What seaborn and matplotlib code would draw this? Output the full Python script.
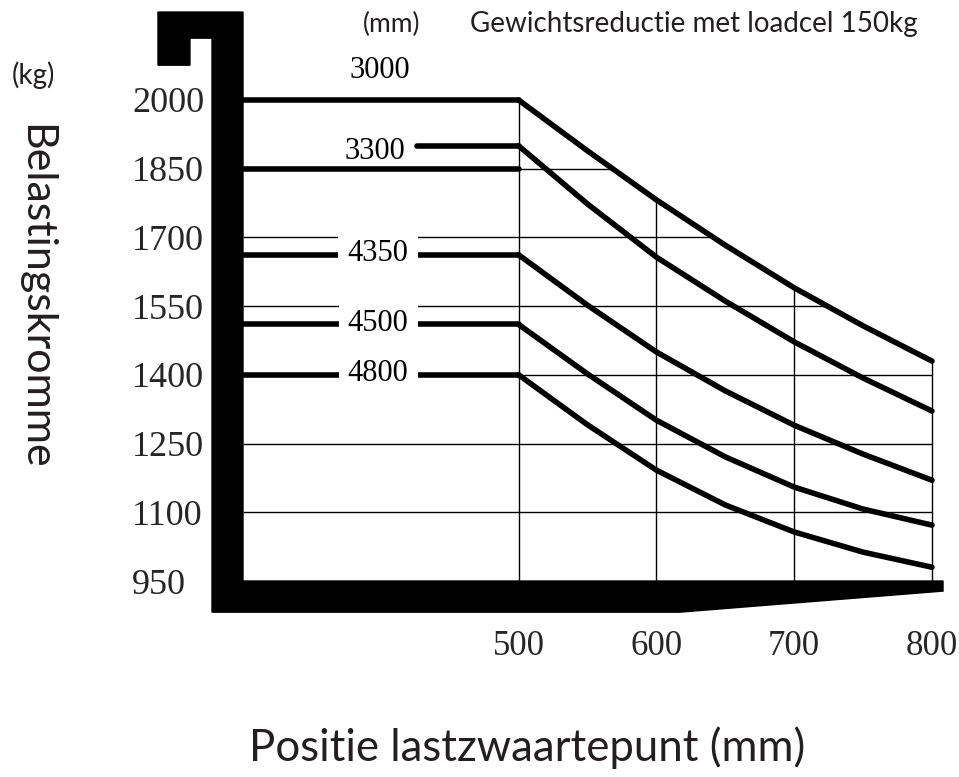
import matplotlib
matplotlib.use('Agg')
import numpy as np
import pandas as pd
import matplotlib.pyplot as plt
import seaborn as sns

# Lastzwaartepunt (mm) en belasting (kg) per masthoogte
positie = [500, 550, 600, 650, 700, 750, 800]
last_3000 = [2000, 1889, 1782, 1683, 1590, 1507, 1430]
last_3300 = [1900, 1773, 1657, 1561, 1472, 1393, 1321]
last_4350 = [1662, 1552, 1450, 1365, 1290, 1227, 1170]
last_4500 = [1510, 1402, 1301, 1221, 1155, 1107, 1072]
last_4800 = [1400, 1291, 1192, 1116, 1057, 1013, 980]
masten = ['3000', '3300', '4350', '4500', '4800']

y_ticks = [950, 1100, 1250, 1400, 1550, 1700, 1850, 2000]
x_ticks = [500, 600, 700, 800]

curves = {'3000': last_3000, '3300': last_3300, '4350': last_4350,
          '4500': last_4500, '4800': last_4800}
df = pd.DataFrame([(m, x, y) for m in masten for x, y in zip(positie, curves[m])],
                  columns=['mast', 'positie', 'last'])

sns.set_theme(style='white')
plt.rcParams['font.family'] = ['Liberation Serif', 'DejaVu Serif']

fig = plt.figure(figsize=(9.59, 7.77), dpi=100)
ax = fig.add_axes([243/959, 1 - 581/777, 689/959, 481/777])
ax.set_xlim(300, 800)
ax.set_ylim(950, 2000)
for s in ax.spines.values():
    s.set_visible(False)

# raster
for y in y_ticks[1:-1]:
    ax.plot([300, 800], [y, y], color='black', lw=1.0, zorder=1, clip_on=False,
            solid_capstyle='butt')
for x in x_ticks:
    top = last_3000[positie.index(x)]
    ax.plot([x, x], [950, top], color='black', lw=1.0, zorder=1, clip_on=False,
            solid_capstyle='butt')

# wit boven de bovenste curve (raster maskeren)
top_x = [300] + positie
top_y = [last_3000[0]] + last_3000
ax.fill_between(top_x, top_y, 2300, facecolor='white', edgecolor='white', lw=2,
                zorder=2, clip_on=False)

# curves
sns.lineplot(data=df, x='positie', y='last', units='mast', estimator=None,
             color='black', lw=4, ax=ax, zorder=4, legend=False)
for line in ax.lines[-len(masten):]:
    line.set_clip_on(False)
    line.set_solid_capstyle('round')
    line.set_solid_joinstyle('round')

# horizontale stukken met labels
ax.plot([300, 500], [last_3000[0]] * 2, color='black', lw=4, zorder=4, clip_on=False)
ax.plot([300, 500], [1850, 1850], color='black', lw=4, zorder=4, clip_on=False)
ax.plot([426, 500], [last_3300[0]] * 2, color='black', lw=4, zorder=4,
        clip_on=False, solid_capstyle='round')
for m in ['4350', '4500', '4800']:
    v = curves[m][0]
    ax.plot([300, 374], [v, v], color='black', lw=4, zorder=4, clip_on=False,
            solid_capstyle='round')
    ax.plot([425, 500], [v, v], color='black', lw=4, zorder=4, clip_on=False,
            solid_capstyle='round')

lbl = dict(ha='center', va='center', fontsize=22, color='black', zorder=5)
ax.text(399, 2064, '3000', **lbl)
ax.text(396, 1888, '3300', **lbl)
for m in ['4350', '4500', '4800']:
    ax.text(398, curves[m][0] + 2, m,
            bbox=dict(boxstyle='square,pad=0.3', fc='white', ec='none'), **lbl)

# vork
vork = [(238.3, 2192), (300, 2192), (300, 950), (808, 950), (808, 928),
        (617, 882), (277.5, 882), (277.5, 2135), (261.5, 2135),
        (261.5, 2076), (238.3, 2076)]
ax.add_patch(plt.Polygon(vork, closed=True, color='black', zorder=6, clip_on=False))

ax.set_yticks(y_ticks)
ax.set_yticklabels([str(v) for v in y_ticks], fontsize=26)
for t in ax.get_yticklabels():
    t.set_horizontalalignment('left')
ax.set_xticks(x_ticks)
ax.set_xticklabels([str(v) for v in x_ticks], fontsize=25)
ax.tick_params(axis='y', length=0, pad=80)
ax.tick_params(axis='x', length=0, pad=35)
ax.set_xlabel('')
ax.set_ylabel('')

sans = ['Lato', 'DejaVu Sans']
fig.text(392/959, 1 - 24/777, '(mm)', ha='center', va='center', fontsize=19,
         family=sans, color='#231f20')
fig.text(470/959, 1 - 24/777, 'Gewichtsreductie met loadcel 150kg', ha='left',
         va='center', fontsize=20, family=sans, color='#231f20')
fig.text(33/959, 1 - 75/777, '(kg)', ha='center', va='center', fontsize=20,
         family=sans, color='#231f20')
fig.text(35/959, 1 - 297/777, 'Belastingskromme', ha='center', va='center',
         rotation=270, fontsize=31, family=sans, color='#231f20')
fig.text(527/959, 1 - 748/777, 'Positie lastzwaartepunt (mm)', ha='center',
         va='center', fontsize=31.5, family=sans, color='#231f20')

fig.savefig('out.png', dpi=100, facecolor='white')
